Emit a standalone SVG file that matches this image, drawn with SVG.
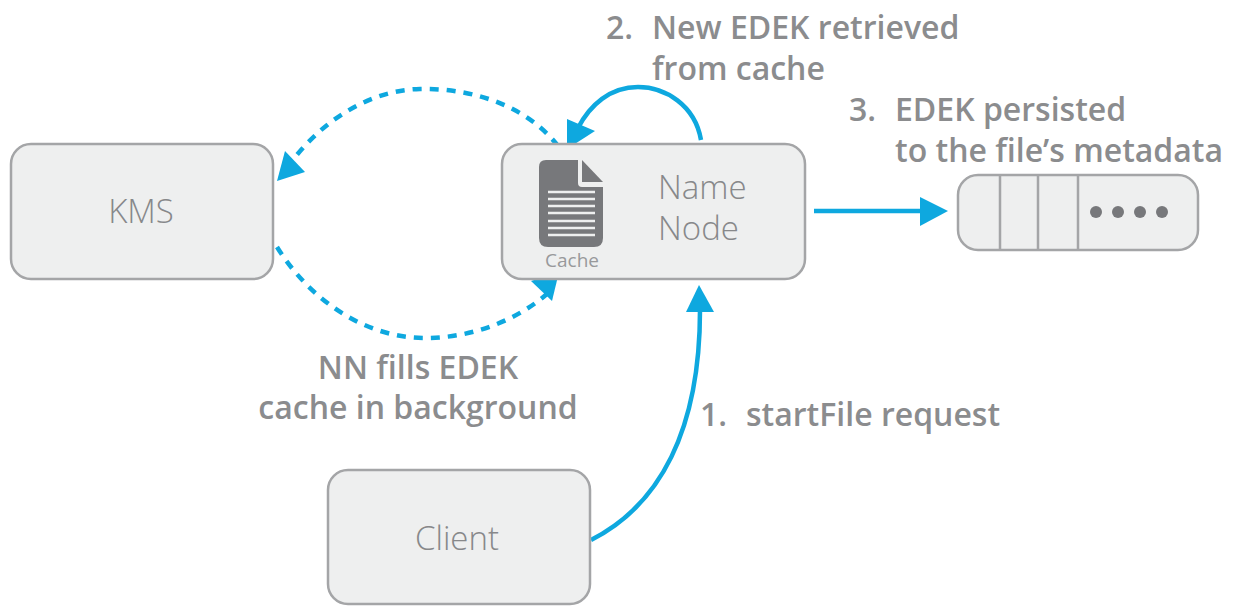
<svg xmlns="http://www.w3.org/2000/svg" width="1246" height="606" viewBox="0 0 1246 606">
<style>
.box{fill:#eeefef;stroke:#a4a5a7;stroke-width:2.5}
.thin{fill:none;stroke:#a4a5a7;stroke-width:2.5}
.lbl{font-family:"Open Sans","Liberation Sans",sans-serif;font-size:32px;font-weight:600;fill:#8b8c8e}
.nm{font-family:"Open Sans","Liberation Sans",sans-serif;font-size:33px;font-weight:300;fill:#87888a}
.c{fill:none;stroke:#0ea8df;stroke-width:4.5}
.d{stroke-dasharray:9 8}
.a{fill:#0ea8df}
</style>
<rect width="1246" height="606" fill="#fff"/>
<g id="connectors">
<path class="c d" d="M558 146C530 110 480 88 420 89C370 90 325 120 296 156"/>
<polygon class="a" points="277,181 285,151 305,172"/>
<path class="c d" d="M277 247C310 300 365 338 425 338C475 338 520 318 548 293"/>
<polygon class="a" points="559,272 531,281 552,301"/>
<path class="c" d="M701 140C695 105 665 87 638 87C610 87 590 105 578 128"/>
<polygon class="a" points="567,149 567,119 595,131"/>
<path class="c" d="M814 211H925"/>
<polygon class="a" points="948,211 920,197 920,226"/>
<path class="c" d="M591 540C660 505 700 430 700 310"/>
<polygon class="a" points="699,285 686,312 714,312"/>
</g>
<g id="kms"><rect class="box" x="11" y="144" width="262" height="135" rx="20"/><text class="nm" x="141" y="223" text-anchor="middle">KMS</text></g>
<g id="namenode">
<rect class="box" x="502" y="144" width="303" height="135" rx="20"/>
<path d="M546 160H578V183Q578 187 582 187H603V238Q603 247 594 247H548Q539 247 539 238V167Q539 160 546 160Z" fill="#77787b"/>
<path d="M582 160L603 182H582Z" fill="#77787b"/>
<g stroke="#eeefef" stroke-width="2.5"><path d="M548 192H595M548 199H595M548 206H595M548 213H595M548 221H595M548 228H595M548 235H595"/></g>
<text x="572" y="267" text-anchor="middle" style="font-family:'Open Sans','Liberation Sans',sans-serif;font-size:19px;fill:#98999b">Cache</text>
<text class="nm" x="658" y="199">Name</text><text class="nm" x="658" y="240">Node</text>
</g>
<g id="storage">
<rect class="box" x="958" y="175" width="240" height="75" rx="20"/>
<path class="thin" d="M1000 175V250M1038 175V250M1078 175V250"/>
<g fill="#77787b"><circle cx="1096" cy="212" r="6"/><circle cx="1118" cy="212" r="6"/><circle cx="1140" cy="212" r="6"/><circle cx="1162" cy="212" r="6"/></g>
</g>
<g id="client"><rect class="box" x="328" y="470" width="262" height="134" rx="20"/><text class="nm" x="457" y="550" text-anchor="middle">Client</text></g>
<g id="labels">
<text class="lbl" x="606" y="39">2.</text><text class="lbl" x="652" y="39">New EDEK retrieved</text>
<text class="lbl" x="652" y="80">from cache</text>
<text class="lbl" x="849" y="121">3.</text><text class="lbl" x="895" y="121">EDEK persisted</text>
<text class="lbl" x="895" y="162">to the file’s metadata</text>
<text class="lbl" x="418" y="379" text-anchor="middle">NN fills EDEK</text>
<text class="lbl" x="418" y="419" text-anchor="middle">cache in background</text>
<text class="lbl" x="700" y="426">1.</text><text class="lbl" x="746" y="426">startFile request</text>
</g>
</svg>
